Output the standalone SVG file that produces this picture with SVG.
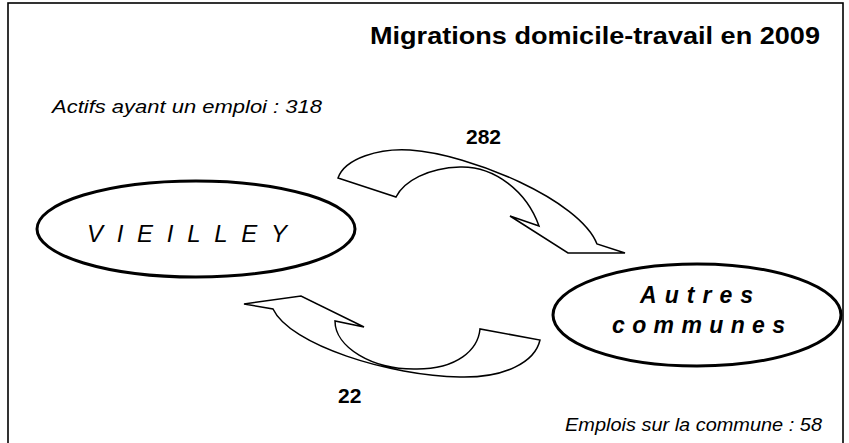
<svg xmlns="http://www.w3.org/2000/svg" width="849" height="443" viewBox="0 0 849 443">
  <style>
    .frame { fill: #ffffff; stroke: #000000; stroke-width: 1.6; }
    .node { fill: #ffffff; stroke: #000000; stroke-width: 3; }
    .flow { fill: #ffffff; stroke: #000000; stroke-width: 1.5; stroke-linejoin: miter; }
    .title { font-family: "Liberation Sans", Arial, sans-serif; font-weight: bold; font-size: 24px; }
    .count { font-family: "Liberation Sans", Arial, sans-serif; font-weight: bold; font-size: 21px; }
    .note { font-family: "Liberation Sans", Arial, sans-serif; font-style: italic; font-size: 19px; }
    .place { font-family: "Liberation Sans", Arial, sans-serif; font-style: italic; font-size: 24px; }
    .place2 { font-family: "Liberation Sans", Arial, sans-serif; font-style: italic; font-weight: bold; font-size: 23px; }
  </style>

  <!-- outer frame -->
  <rect class="frame" x="8" y="3" width="835" height="445"/>

  <!-- headings and totals -->
  <text class="title" x="370" y="44" textLength="450" lengthAdjust="spacingAndGlyphs">Migrations domicile-travail en 2009</text>
  <text class="note" x="52" y="113" textLength="270" lengthAdjust="spacingAndGlyphs">Actifs ayant un emploi : 318</text>
  <text class="note" x="565" y="431" textLength="257" lengthAdjust="spacingAndGlyphs">Emplois sur la commune : 58</text>

  <!-- flows between the two places -->
  <g id="connectors">
    <g id="flow-out">
      <path class="flow" d="M338,178 C345,158 380,148 410,150 C470,154 580,200 597,244 L625,253 L568,253 L510,216 L539,226 C527,192 495,166 460,167 C428,168 404,181 396,197 Z"/>
      <text class="count" x="466" y="144">282</text>
    </g>
    <g id="flow-in">
      <path class="flow" d="M244,304 L301,296 L364,327 L335,321 C335,347 372,370 417,369 C457,369 478,350 480,329 L540,340 C535,362 505,378 460,377 C390,376 290,345 273,309 Z"/>
      <text class="count" x="338" y="403">22</text>
    </g>
  </g>

  <!-- places -->
  <g id="node-vieilley">
    <ellipse class="node" cx="196" cy="229" rx="159" ry="48"/>
    <text class="place" x="87" y="242" textLength="200" lengthAdjust="spacing">VIEILLEY</text>
  </g>
  <g id="node-autres-communes">
    <ellipse class="node" cx="697" cy="315" rx="144" ry="51"/>
    <text class="place2" x="640" y="303" textLength="113" lengthAdjust="spacing">Autres</text>
    <text class="place2" x="612" y="333" textLength="173" lengthAdjust="spacing">communes</text>
  </g>
</svg>
